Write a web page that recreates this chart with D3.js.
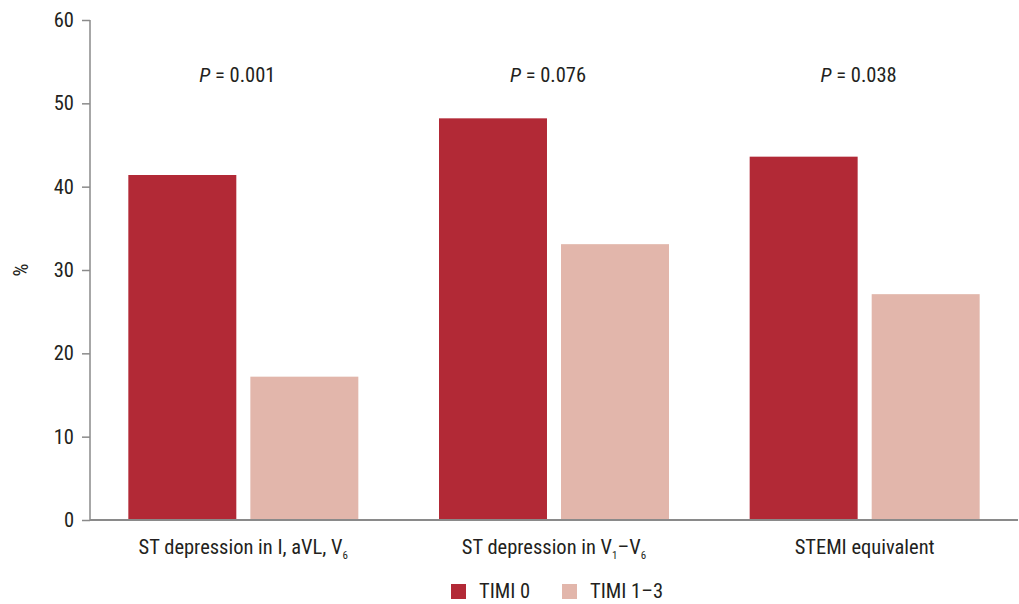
<!DOCTYPE html>
<html><head><meta charset="utf-8">
<script src="https://cdn.jsdelivr.net/npm/d3@7"></script>
<style>
body{margin:0;background:#fff;}
svg text{font-family:"Liberation Sans Narrow","Roboto Condensed","Open Sans",sans-serif;fill:#231f20;}
</style></head>
<body><svg id="c" width="1019" height="604"></svg>
<script>
const categories = ["cat1","cat2","cat3"];
const series = ["TIMI 0","TIMI 1–3"];
const timi0 = [41.4, 48.2, 43.6];
const timi13 = [17.2, 33.1, 27.1];
const pValues = ["0.001","0.076","0.038"];
const yTicks = [0,10,20,30,40,50,60];
const colors = ["#b22936","#e2b6ab"];

const svg = d3.select("#c");
const fs = 20.5;
const x = d3.scaleBand().domain(categories).range([88,1020]);
const y = d3.scaleLinear().domain([0,60]).range([520,20]);
const xs = d3.scaleBand().domain(series).range([0,230]).paddingInner(0.115);

// y axis
const ya = svg.append("g").attr("transform","translate(90,0)")
  .call(d3.axisLeft(y).tickValues(yTicks).tickSize(8).tickPadding(8));
ya.select(".domain").attr("stroke","#8a8a8a").attr("stroke-width",1.5).attr("d","M0,20V520");
ya.selectAll(".tick line").attr("stroke","#8a8a8a").attr("stroke-width",1.5);
ya.selectAll(".tick text").attr("font-size",fs).style("font-family",null);

// bars
const data = categories.map((c,i)=>({c, vals:[timi0[i], timi13[i]]}));
const g = svg.append("g");
data.forEach(d=>{
  const cx = x(d.c) + x.bandwidth()/2;
  g.selectAll(null).data(d.vals).enter().append("rect")
    .attr("x",(v,j)=>cx-115+xs(series[j]))
    .attr("width",xs.bandwidth())
    .attr("y",v=>y(v))
    .attr("height",v=>y(0)-y(v))
    .attr("fill",(v,j)=>colors[j]);
});

// x axis line
svg.append("line").attr("x1",90).attr("x2",1018).attr("y1",520).attr("y2",520)
  .attr("stroke","#8a8a8a").attr("stroke-width",2);

// category labels
const lab = svg.append("g").attr("font-size",fs);
function addLabel(cx, parts){
  const t = lab.append("text").attr("x",cx).attr("y",554).attr("text-anchor","middle");
  let pending = 0;
  parts.forEach(p=>{
    if(p.sub){ t.append("tspan").attr("dy",pending+5).attr("font-size",11).text(p.t); pending = -5; }
    else { t.append("tspan").attr("dy",pending).text(p.t); pending = 0; }
  });
}
const cxs = categories.map(c=>x(c)+x.bandwidth()/2);
addLabel(cxs[0],[{t:"ST depression in I, aVL, V"},{t:"6",sub:true}]);
addLabel(cxs[1],[{t:"ST depression in V"},{t:"1",sub:true},{t:"–V"},{t:"6",sub:true}]);
addLabel(cxs[2],[{t:"STEMI equivalent"}]);

// P values
pValues.forEach((p,i)=>{
  const t = svg.append("text").attr("x",cxs[i]-6).attr("y",82).attr("text-anchor","middle").attr("font-size",fs);
  t.append("tspan").attr("font-style","italic").text("P");
  t.append("tspan").text(" = "+p);
});

// y label
svg.append("text").attr("transform","translate(28,270) rotate(-90)").attr("text-anchor","middle")
  .attr("font-size",fs).text("%");

// legend
const leg = svg.append("g").attr("font-size",fs);
const lx = [451, 562];
series.forEach((s,i)=>{
  leg.append("rect").attr("x",lx[i]).attr("y",584).attr("width",15).attr("height",15).attr("fill",colors[i]);
  leg.append("text").attr("x",lx[i]+28).attr("y",598).text(s);
});
</script></body></html>
